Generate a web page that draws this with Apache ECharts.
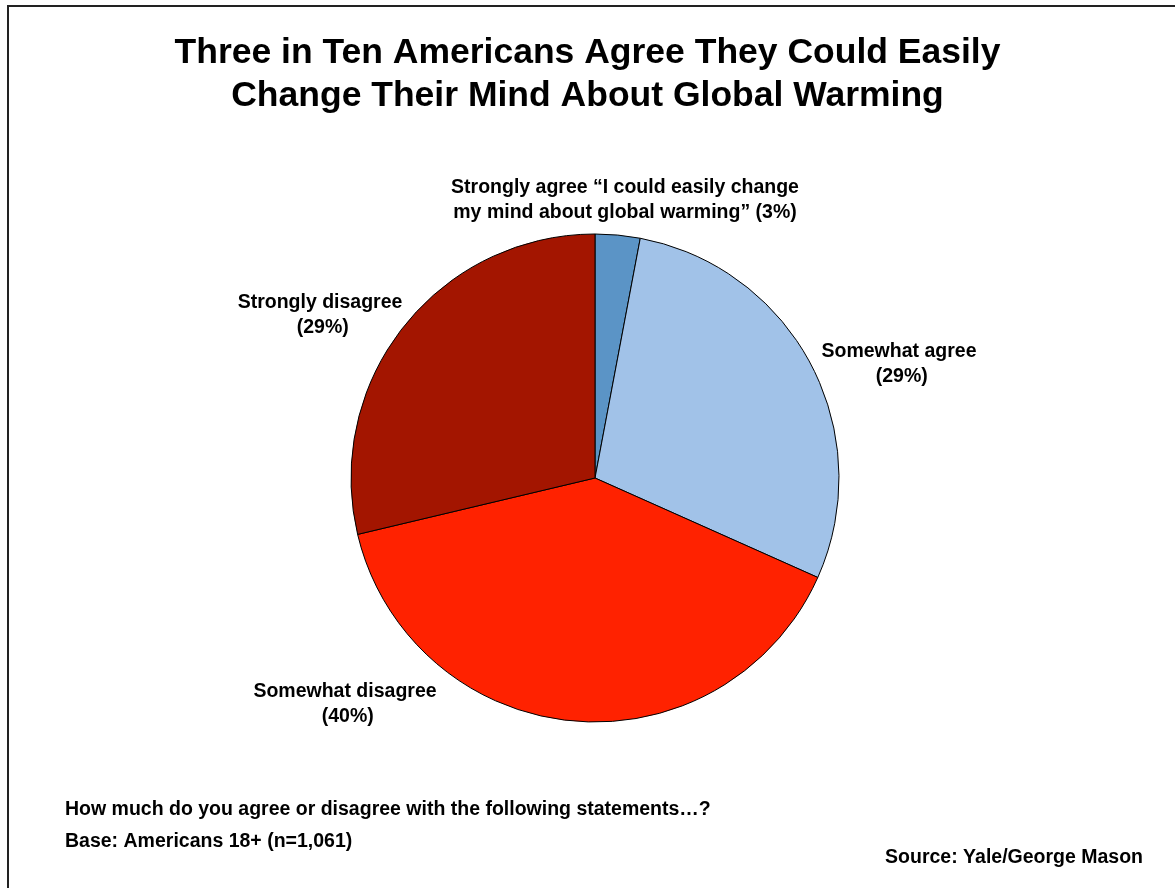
<!DOCTYPE html>
<html>
<head>
<meta charset="utf-8">
<script src="https://cdn.jsdelivr.net/npm/echarts@6/dist/echarts.min.js"></script>
<style>
html,body{margin:0;padding:0;background:#fff;}
#chart{width:1175px;height:888px;}
</style>
</head>
<body>
<div id="chart"></div>
<script>
var titleLines = ['Three in Ten Americans Agree They Could Easily', 'Change Their Mind About Global Warming'];
var categories = ['Strongly agree', 'Somewhat agree', 'Somewhat disagree', 'Strongly disagree'];
var labelTexts = [
  'Strongly agree \u201cI could easily change\nmy mind about global warming\u201d',
  'Somewhat agree\n',
  'Somewhat disagree\n',
  'Strongly disagree\n'
];
var values = [3, 29, 40, 29];
var colors = ['#5b94c6', '#a1c2e8', '#ff2200', '#a31500'];
var footNotes = ['How much do you agree or disagree with the following statements\u2026?', 'Base: Americans 18+ (n=1,061)'];
var sourceText = 'Source: Yale/George Mason';

var labelPos = [
  {x: 625, y: 200},
  {x: 899, y: 364},
  {x: 345, y: 704},
  {x: 320, y: 315}
];

var FONT = '"Liberation Sans", Arial, Helvetica, sans-serif';

var chart = echarts.init(document.getElementById('chart'));
var option = {
  backgroundColor: '#ffffff',
  animation: false,
  title: {
    text: titleLines.join('\n'),
    left: 'center',
    top: 27,
    textStyle: {fontFamily: FONT, fontSize: 35.5, fontWeight: 'bold', color: '#000', lineHeight: 43}
  },
  graphic: [
    {type: 'rect', shape: {x: 8, y: 6, width: 1200, height: 900}, style: {fill: 'none', stroke: '#222', lineWidth: 2}, silent: true, z: 100},
    {type: 'text', x: 65, y: 810, style: {text: footNotes[0], font: 'bold 19.5px ' + FONT, fill: '#000', textVerticalAlign: 'middle'}},
    {type: 'text', x: 65, y: 842, style: {text: footNotes[1], font: 'bold 19.5px ' + FONT, fill: '#000', textVerticalAlign: 'middle'}},
    {type: 'text', x: 1143, y: 858, style: {text: sourceText, font: 'bold 19.5px ' + FONT, fill: '#000', textAlign: 'right', textVerticalAlign: 'middle'}}
  ],
  series: [{
    type: 'pie',
    center: [595, 478],
    radius: 244,
    startAngle: 90,
    clockwise: true,
    avoidLabelOverlap: false,
    data: categories.map(function (c, i) {
      return {name: c, value: values[i], itemStyle: {color: colors[i]}};
    }),
    itemStyle: {borderColor: '#000', borderWidth: 1},
    label: {
      show: true,
      position: 'outside',
      formatter: function (p) { return labelTexts[p.dataIndex] + ' (' + values[p.dataIndex] + '%)'; },
      fontFamily: FONT,
      fontSize: 19.5,
      fontWeight: 'bold',
      color: '#000',
      lineHeight: 25,
      align: 'center'
    },
    labelLine: {show: false},
    labelLayout: function (p) {
      var pos = labelPos[p.dataIndex];
      return {x: pos.x, y: pos.y, align: 'center', verticalAlign: 'middle', hideOverlap: false};
    },
    emphasis: {disabled: true}
  }]
};
chart.setOption(option);
</script>
</body>
</html>
